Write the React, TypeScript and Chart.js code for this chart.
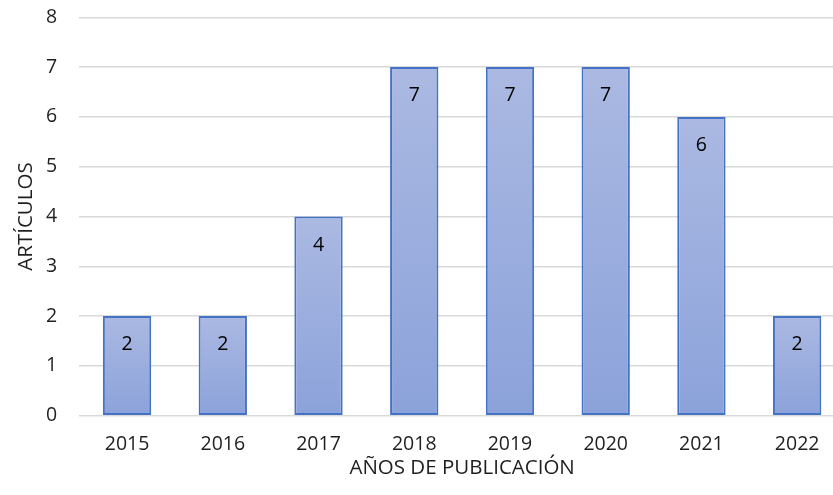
import React, { useEffect, useRef } from "react";
import { Chart, registerables } from "chart.js";

Chart.register(...registerables);

const categories = ["2015", "2016", "2017", "2018", "2019", "2020", "2021", "2022"];
const articulos = [2, 2, 4, 7, 7, 7, 6, 2];
const yTicks = [0, 1, 2, 3, 4, 5, 6, 7, 8];
const xTitle = "AÑOS DE PUBLICACIÓN";
const yTitle = "ARTÍCULOS";

const FONT = "'Open Sans', 'Noto Sans', sans-serif";

const dataLabels = {
  id: "dataLabels",
  afterDatasetsDraw(chart: any) {
    const ctx = chart.ctx;
    const meta = chart.getDatasetMeta(0);
    const ds = chart.data.datasets[0];
    ctx.save();
    ctx.font = `19.5px ${FONT}`;
    ctx.fillStyle = "#000000";
    ctx.textAlign = "center";
    ctx.textBaseline = "middle";
    meta.data.forEach((el: any, i: number) => {
      ctx.fillText(String(ds.data[i]), el.x, el.y + 28.5);
    });
    ctx.restore();
  },
};

export default function App() {
  const ref = useRef<HTMLCanvasElement | null>(null);
  useEffect(() => {
    if (!ref.current) return;
    const chart = new Chart(ref.current, {
      type: "bar",
      data: {
        labels: categories,
        datasets: [
          {
            data: articulos,
            backgroundColor: (c: any) => {
              const ch = c.chart;
              const y = ch.scales?.y;
              if (!y || c.dataIndex === undefined) return "#9aaddd";
              const v = c.raw ?? articulos[c.dataIndex];
              const top = y.getPixelForValue(v);
              const bot = y.getPixelForValue(0);
              if (!isFinite(top) || !isFinite(bot) || top === bot) return "#9aaddd";
              const g = ch.ctx.createLinearGradient(0, top, 0, bot);
              g.addColorStop(0, "#abb9e2");
              g.addColorStop(1, "#8ba2da");
              return g;
            },
            borderColor: "#4472C4",
            borderWidth: 2,
            borderSkipped: false,
            barPercentage: 0.505,
            categoryPercentage: 1,
          },
        ],
      },
      options: {
        responsive: false,
        animation: false,
        layout: { padding: { top: 17.3, left: 0, right: 0, bottom: 0 } },
        plugins: {
          legend: { display: false },
          tooltip: { enabled: false },
        },
        scales: {
          x: {
            grid: { display: false, drawTicks: false },
            border: { display: false },
            ticks: {
              padding: 17,
              color: "#1f1f1f",
              font: { family: FONT, size: 19.5 },
            },
            title: {
              display: true,
              text: xTitle,
              color: "#1f1f1f",
              font: { family: FONT, size: 20.5 },
              padding: { top: 0, bottom: 15 },
            },
            afterFit: (s: any) => {
              s.height = 79.3;
            },
          },
          y: {
            min: 0,
            max: 8,
            afterBuildTicks: (s: any) => {
              s.ticks = yTicks.map((v) => ({ value: v }));
            },
            grid: {
              color: "#d9d9d9",
              lineWidth: 1.5,
              drawTicks: true,
              tickLength: 22,
              tickColor: "rgba(0,0,0,0)",
            },
            border: { display: false },
            ticks: {
              padding: 0,
              color: "#1f1f1f",
              font: { family: FONT, size: 19.5 },
            },
            title: {
              display: true,
              text: yTitle,
              color: "#1f1f1f",
              font: { family: FONT, size: 20.5 },
              padding: { top: 14, bottom: 0 },
            },
            afterFit: (s: any) => {
              s.width = 79.2;
            },
          },
        },
      },
      plugins: [dataLabels],
    });
    return () => chart.destroy();
  }, []);
  return (
    <div
      style={{
        position: "absolute",
        left: 0,
        top: 0,
        width: 833,
        height: 495,
        overflow: "hidden",
        background: "#ffffff",
      }}
    >
      <canvas ref={ref} width={845} height={495} style={{ display: "block" }} />
    </div>
  );
}
